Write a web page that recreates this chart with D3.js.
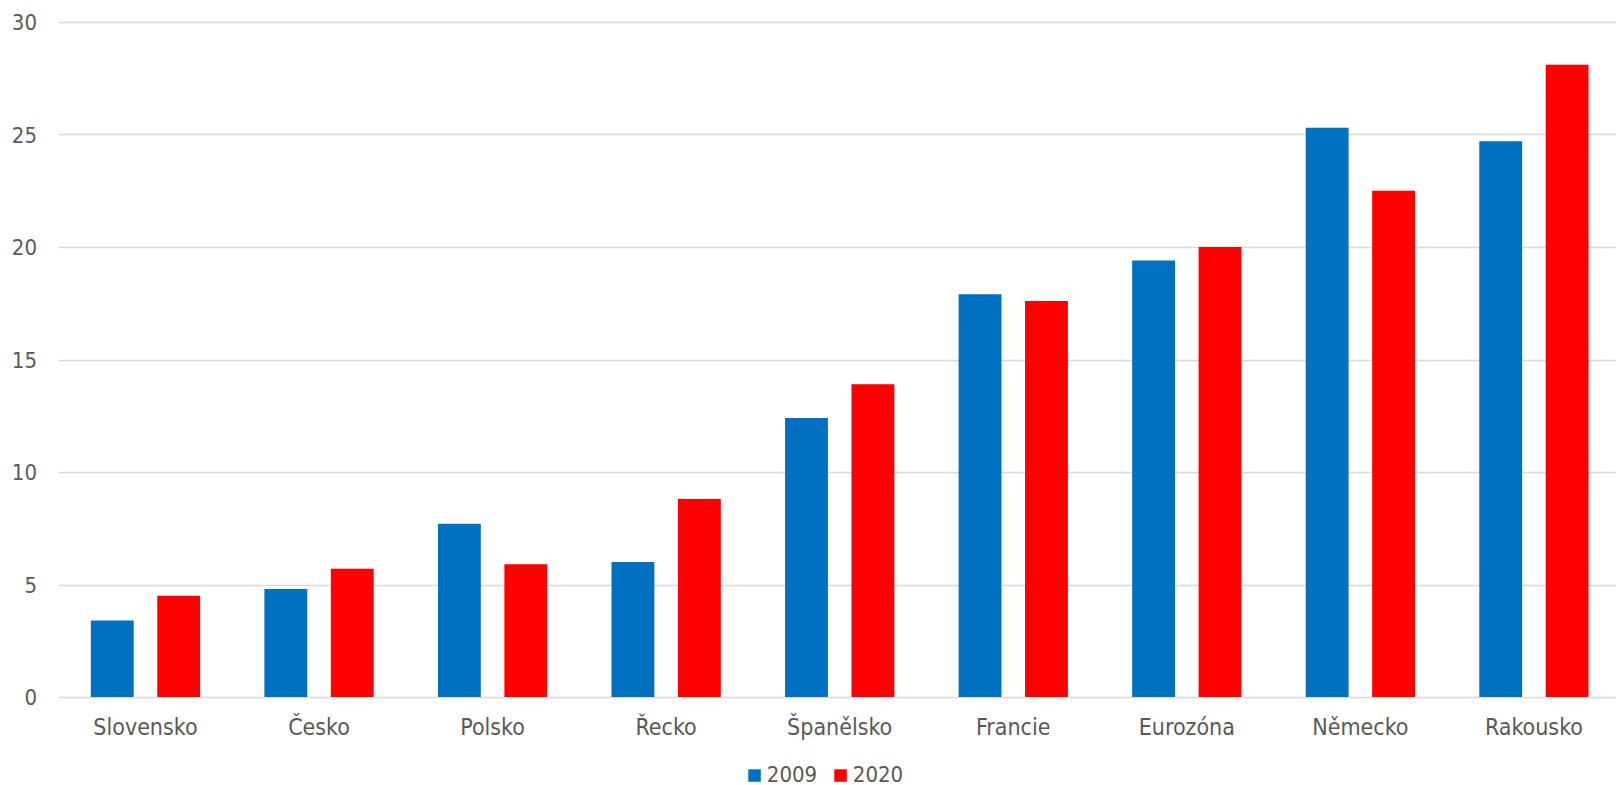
<!DOCTYPE html>
<html>
<head>
<meta charset="utf-8">
<script src="https://cdn.jsdelivr.net/npm/d3@7/dist/d3.min.js"></script>
<style>
  html, body { margin: 0; padding: 0; background: #fff; overflow: hidden; }
  svg { display: block; }
  text { font-family: "DejaVu Sans Condensed", "DejaVu Sans", sans-serif; font-stretch: condensed; fill: #595959; }
</style>
</head>
<body>
<svg id="chart" width="1616" height="785"></svg>
<script>
// Countries on the category axis
const categories = ["Slovensko", "Česko", "Polsko", "Řecko", "Španělsko", "Francie", "Eurozóna", "Německo", "Rakousko"];
// Series names
const seriesNames = ["2009", "2020"];
// Values per series, in category order
const values2009 = [3.4, 4.8, 7.7, 6.0, 12.4, 17.9, 19.4, 25.3, 24.7];
const values2020 = [4.5, 5.7, 5.9, 8.8, 13.9, 17.6, 20.0, 22.5, 28.1];
// Value axis ticks
const yTicks = [0, 5, 10, 15, 20, 25, 30];
const seriesColors = ["#0070C0", "#FF0000"];

const svg = d3.select("#chart");
const width = 1616;
const plot = { left: 58.7, right: 1620.7, top: 22, bottom: 697 };

const y = d3.scaleLinear().domain([0, 30]).range([plot.bottom, plot.top]);
const x0 = d3.scaleBand().domain(categories).range([plot.left, plot.right]).padding(0);

// Bar width from gap width 150% and series overlap -55%
const step = x0.bandwidth();
const barW = step / (2.55 + 1.5);
const groupW = barW * 2.55;
const groupOffset = (step - groupW) / 2;
const x1 = d3.scaleBand().domain(seriesNames)
  .range([groupOffset, groupOffset + groupW])
  .paddingInner(0.55 / 1.55).paddingOuter(0);

// Horizontal gridlines
svg.append("g").selectAll("line").data(yTicks).join("line")
  .attr("x1", plot.left).attr("x2", width)
  .attr("y1", d => Math.round(y(d)) + 0.5).attr("y2", d => Math.round(y(d)) + 0.5)
  .attr("stroke", "#d9d9d9").attr("stroke-width", 1.3);

// Value axis labels
svg.append("g").selectAll("text").data(yTicks).join("text")
  .attr("x", 37).attr("y", d => y(d) + 8)
  .attr("text-anchor", "end")
  .style("font-size", "22px")
  .text(d => d);

// Bars
const rows = categories.map((c, i) => ({ cat: c, vals: [values2009[i], values2020[i]] }));
const groups = svg.append("g").selectAll("g").data(rows).join("g")
  .attr("transform", d => `translate(${x0(d.cat)},0)`);
groups.selectAll("rect").data(d => d.vals.map((v, j) => ({ s: seriesNames[j], v, j })))
  .join("rect")
  .attr("x", d => x1(d.s))
  .attr("width", x1.bandwidth())
  .attr("y", d => y(d.v))
  .attr("height", d => y(0) - y(d.v))
  .attr("fill", d => seriesColors[d.j]);

// Category labels
svg.append("g").selectAll("text").data(categories).join("text")
  .attr("x", d => x0(d) + step / 2)
  .attr("y", 734.5)
  .attr("text-anchor", "middle")
  .style("font-size", "23px")
  .text(d => d);

// Legend
const legend = svg.append("g");
const legendItems = [
  { name: seriesNames[0], color: seriesColors[0], x: 748.3 },
  { name: seriesNames[1], color: seriesColors[1], x: 834.3 }
];
legendItems.forEach(it => {
  legend.append("rect").attr("x", it.x).attr("y", 769.3).attr("width", 12.5).attr("height", 12.5).attr("fill", it.color);
  legend.append("text").attr("x", it.x + 18.5).attr("y", 781.7).style("font-size", "22px").text(it.name);
});
</script>
</body>
</html>
